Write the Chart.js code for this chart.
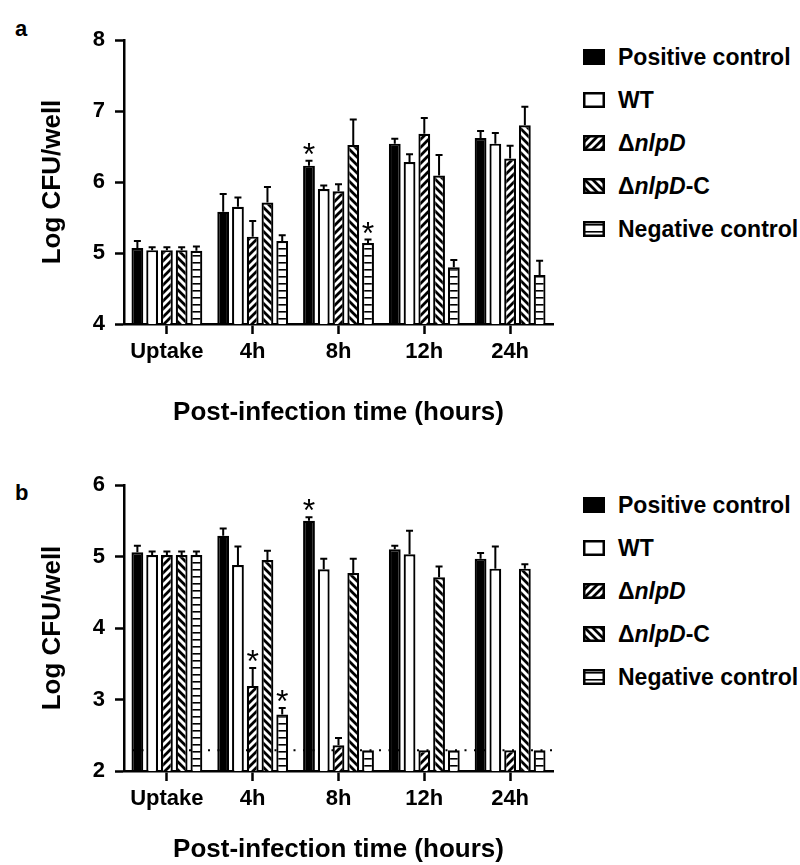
<!DOCTYPE html>
<html>
<head>
<meta charset="utf-8">
<script src="https://cdn.jsdelivr.net/npm/chart.js@4/dist/chart.umd.min.js"></script>
<style>
  body { margin: 0; background: #fff; width: 800px; height: 865px; position: relative; overflow: hidden;
         font-family: "Liberation Sans", Arial, sans-serif; }
  canvas.chart { position: absolute; left: 0; }
  .panel { position: absolute; font-weight: bold; font-size: 22px; }
  .legend { position: absolute; left: 583px; }
  .legend .item { position: absolute; left: 0; white-space: nowrap; font-weight: bold; font-size: 23px;
                  height: 26px; line-height: 26px; }
  .legend canvas { position: absolute; left: 0; top: 5px; }
  .legend span { position: absolute; left: 35px; top: 0; }
</style>
</head>
<body>
<div class="panel" style="left:15px;top:16px;">a</div>
<div class="panel" style="left:15px;top:480px;">b</div>
<canvas id="chartA" class="chart" width="570" height="440" style="top:0;"></canvas>
<canvas id="chartB" class="chart" width="570" height="425" style="top:440px;"></canvas>
<div class="legend" id="legendA" style="top:44px;"></div>
<div class="legend" id="legendB" style="top:492px;"></div>

<script>
// ---------- data ----------
const categories = ["Uptake", "4h", "8h", "12h", "24h"];
const seriesNames = ["Positive control", "WT", "\u0394<i>nlpD</i>", "\u0394<i>nlpD</i>-C", "Negative control"];
const seriesPatterns = ["solid", "empty", "fwd", "back", "horiz"];

// panel a: means and SD (Log CFU/well)
const posA   = [5.07, 5.58, 6.23, 6.54, 6.62];
const wtA    = [5.04, 5.65, 5.90, 6.28, 6.54];
const nlpdA  = [5.04, 5.23, 5.87, 6.68, 6.33];
const nlpdcA = [5.04, 5.71, 6.52, 6.09, 6.80];
const negA   = [5.03, 5.17, 5.14, 4.80, 4.69];
const posSdA   = [0.10, 0.25, 0.07, 0.07, 0.10];
const wtSdA    = [0.04, 0.13, 0.05, 0.11, 0.15];
const nlpdSdA  = [0.04, 0.22, 0.10, 0.22, 0.18];
const nlpdcSdA = [0.04, 0.22, 0.36, 0.29, 0.26];
const negSdA   = [0.06, 0.08, 0.05, 0.10, 0.20];
const starsA = [[0, 2], [4, 2]]; // [series, category]

// panel b
const posB   = [5.06, 5.29, 5.50, 5.10, 4.97];
const wtB    = [5.02, 4.88, 4.82, 5.03, 4.83];
const nlpdB  = [5.02, 3.19, 2.36, 2.29, 2.29];
const nlpdcB = [5.02, 4.95, 4.77, 4.71, 4.83];
const negB   = [5.02, 2.79, 2.29, 2.29, 2.29];
const posSdB   = [0.09, 0.10, 0.05, 0.05, 0.08];
const wtSdB    = [0.05, 0.26, 0.15, 0.33, 0.31];
const nlpdSdB  = [0.05, 0.25, 0.10, 0, 0];
const nlpdcSdB = [0.05, 0.13, 0.20, 0.15, 0.06];
const negSdB   = [0.05, 0.09, 0, 0, 0];
const starsB = [[0, 2], [2, 1], [4, 1]];
const detectionLimitB = 2.29;

const FONT = '"Liberation Sans", Arial, sans-serif';

// ---------- fill patterns ----------
function makePattern(kind) {
  if (kind === "solid") return "#000";
  if (kind === "empty") return "#fff";
  const c = document.createElement("canvas");
  const g = c.getContext("2d");
  if (kind === "horiz") {
    c.width = 7; c.height = 7;
    g.fillStyle = "#fff"; g.fillRect(0, 0, 7, 7);
    g.fillStyle = "#000"; g.fillRect(0, 3, 7, 1.6);
  } else {
    c.width = 8; c.height = 8;
    g.fillStyle = "#fff"; g.fillRect(0, 0, 8, 8);
    g.strokeStyle = "#000"; g.lineWidth = 2.8;
    g.beginPath();
    if (kind === "fwd") {
      g.moveTo(-2, 10); g.lineTo(10, -2);
      g.moveTo(-2, 2); g.lineTo(2, -2);
      g.moveTo(6, 10); g.lineTo(10, 6);
    } else {
      g.moveTo(-2, -2); g.lineTo(10, 10);
      g.moveTo(-2, 6); g.lineTo(2, 10);
      g.moveTo(6, -2); g.lineTo(10, 2);
    }
    g.stroke();
  }
  return g.createPattern(c, "repeat");
}

// ---------- plugins ----------
const errorBarPlugin = {
  id: "errorBars",
  beforeDatasetsDraw(chart, args, opts) {
    if (opts.lod == null) return;
    const { ctx, chartArea } = chart;
    const y = chart.scales.y.getPixelForValue(opts.lod);
    ctx.save();
    ctx.strokeStyle = "#000";
    ctx.lineWidth = 2.2;
    ctx.setLineDash([2, 7.5]);
    ctx.beginPath();
    ctx.moveTo(chartArea.left + 8, y);
    ctx.lineTo(chartArea.right, y);
    ctx.stroke();
    ctx.restore();
  },
  afterDatasetsDraw(chart, args, opts) {
    const { ctx } = chart;
    const yScale = chart.scales.y;
    ctx.save();
    ctx.strokeStyle = "#000";
    ctx.lineWidth = 2;
    chart.data.datasets.forEach((ds, i) => {
      const meta = chart.getDatasetMeta(i);
      meta.data.forEach((bar, j) => {
        const sd = opts.sd[i][j];
        if (!sd) return;
        const top = yScale.getPixelForValue(ds.data[j] + sd);
        ctx.beginPath();
        ctx.moveTo(bar.x, bar.y);
        ctx.lineTo(bar.x, top);
        ctx.moveTo(bar.x - 3.5, top);
        ctx.lineTo(bar.x + 3.5, top);
        ctx.stroke();
      });
    });
    ctx.fillStyle = "#000";
    ctx.font = "32px " + FONT;
    ctx.textAlign = "center";
    ctx.textBaseline = "alphabetic";
    opts.stars.forEach(([i, j]) => {
      const bar = chart.getDatasetMeta(i).data[j];
      const v = chart.data.datasets[i].data[j] + opts.sd[i][j];
      ctx.fillText("*", bar.x, yScale.getPixelForValue(v) + 4);
    });
    ctx.restore();
  }
};

function makeChart(id, series, sds, stars, yMin, yMax, areaTop, areaBottom, canvasH, xTitlePad, lod) {
  const ds = series.map((vals, i) => ({
    label: seriesNames[i],
    data: vals,
    backgroundColor: makePattern(seriesPatterns[i]),
    borderColor: "#000",
    borderWidth: 2.2,
    borderSkipped: false,
    categoryPercentage: 0.86,
    barPercentage: 0.8
  }));
  return new Chart(document.getElementById(id), {
    type: "bar",
    data: { labels: categories, datasets: ds },
    options: {
      responsive: false,
      animation: false,
      layout: { padding: { top: areaTop, right: 17, left: 0, bottom: 0 } },
      plugins: {
        legend: { display: false },
        tooltip: { enabled: false },
        errorBars: { sd: sds, stars: stars, lod: lod }
      },
      scales: {
        x: {
          afterFit(s) { s.height = canvasH - areaBottom; },
          grid: { offset: false, drawOnChartArea: false, drawTicks: true, tickLength: 10, tickWidth: 2.5, tickColor: "#000" },
          border: { display: true, color: "#000", width: 2.5 },
          ticks: { color: "#000", padding: 5, font: { family: FONT, size: 22, weight: "bold" } },
          title: { display: true, text: "Post-infection time (hours)", color: "#000",
                   padding: { top: 0, bottom: xTitlePad }, font: { family: FONT, size: 26, weight: "bold" } }
        },
        y: {
          min: yMin, max: yMax,
          afterFit(s) { s.width = 124; },
          grid: { drawOnChartArea: false, drawTicks: true, tickLength: 9, tickWidth: 2.5, tickColor: "#000" },
          border: { display: true, color: "#000", width: 2.5 },
          ticks: { stepSize: 1, color: "#000", padding: 10, font: { family: FONT, size: 22, weight: "bold" } },
          title: { display: true, text: "Log CFU/well", color: "#000",
                   padding: { top: 37, bottom: 0 }, font: { family: FONT, size: 26, weight: "bold" } }
        }
      }
    },
    plugins: [errorBarPlugin]
  });
}

makeChart("chartA", [posA, wtA, nlpdA, nlpdcA, negA],
  [posSdA, wtSdA, nlpdSdA, nlpdcSdA, negSdA], starsA, 4, 8, 40, 324, 440, 12, null);
makeChart("chartB", [posB, wtB, nlpdB, nlpdcB, negB],
  [posSdB, wtSdB, nlpdSdB, nlpdcSdB, negSdB], starsB, 2, 6, 45, 331, 425, 0, detectionLimitB);

// ---------- legends ----------
function buildLegend(id) {
  const box = document.getElementById(id);
  seriesNames.forEach((name, i) => {
    const item = document.createElement("div");
    item.className = "item";
    item.style.top = (i * 43) + "px";
    const sw = document.createElement("canvas");
    sw.width = 22; sw.height = 16;
    const g = sw.getContext("2d");
    g.fillStyle = makePattern(seriesPatterns[i]);
    g.fillRect(0, 0, 22, 16);
    g.strokeStyle = "#000"; g.lineWidth = 2.5;
    g.strokeRect(1.25, 1.25, 19.5, 13.5);
    const label = document.createElement("span");
    label.innerHTML = name;
    item.appendChild(sw);
    item.appendChild(label);
    box.appendChild(item);
  });
}
buildLegend("legendA");
buildLegend("legendB");
</script>
</body>
</html>
